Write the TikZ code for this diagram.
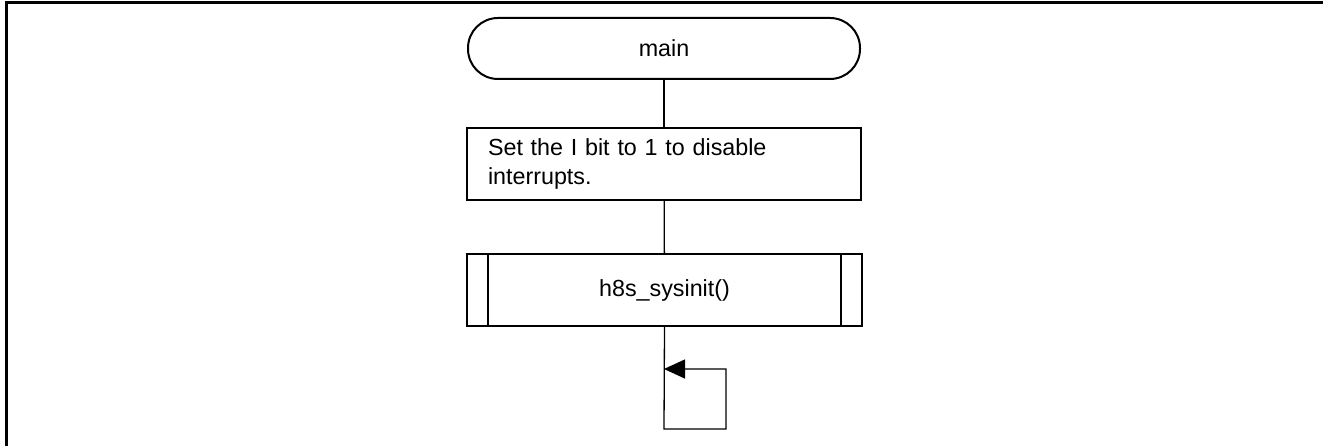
\documentclass[tikz,border=0pt]{standalone}
\usepackage{fontspec}
\setmainfont{Liberation Sans}
\usetikzlibrary{arrows.meta}
\begin{document}
\begin{tikzpicture}[x=1pt,y=-1pt,
  every node/.style={font=\fontsize{23.3}{29}\selectfont},
  terminal/.style={draw, line width=2pt, rectangle, rounded corners=30pt,
    minimum width=392pt, minimum height=61pt, inner sep=0pt},
  procbox/.style={draw, line width=2pt, rectangle, minimum width=394pt,
    minimum height=72pt, text width=352pt, inner xsep=21pt, inner ysep=0pt, align=left},
  subbox/.style={draw, line width=2pt, rectangle, minimum width=395pt,
    minimum height=72pt, inner sep=0pt},
  flow/.style={line width=1.3pt},
  frameline/.style={line width=3pt}
]
\useasboundingbox (0,0) rectangle (1323,446);
% page frame (top and left edges only)
\draw[frameline] (6,446) -- (6,3) -- (1323,3);

% flowchart nodes
\node[terminal] (main) at (664,48.5) {main};
\node[procbox] (proc) at (664,164) {Set the I bit to 1 to disable\\interrupts.};
\node[subbox] (sub) at (664.5,290) {h8s\_sysinit()};
\draw[line width=2pt] ([xshift=22pt]sub.north west) -- ([xshift=22pt]sub.south west);
\draw[line width=2pt] ([xshift=-22pt]sub.north east) -- ([xshift=-22pt]sub.south east);

% endless loop
\coordinate (lb) at (664,429);
\coordinate (rt) at (726,369);
\coordinate (tip) at (664,369);

% connectors
\draw[flow] (main) -- (proc);
\draw[flow] (proc) -- (sub);
\draw[flow, -{Triangle[length=21pt,width=19pt]}] (sub.south) -- (lb) -| (rt) -- (tip);
\end{tikzpicture}
\end{document}
